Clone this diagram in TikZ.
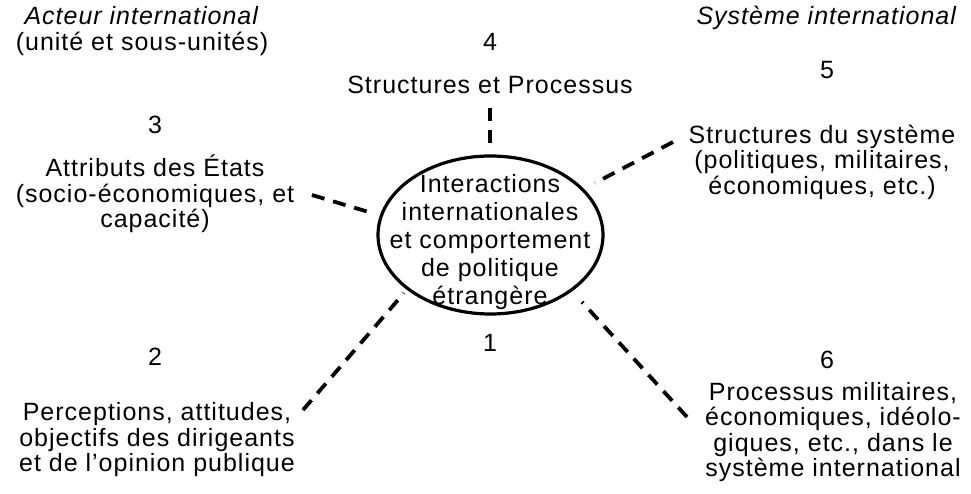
\documentclass[tikz,border=0pt]{standalone}
\usepackage{fontspec}
\setmainfont{Liberation Sans}[LetterSpace=4]
\usetikzlibrary{shapes.geometric}
\tikzset{
  txt/.style={align=center, inner sep=0pt, font=\fontsize{25}{25.5}\selectfont},
  ctxt/.style={align=center, inner sep=0pt, font=\fontsize{25}{28}\selectfont},
  link/.style={line width=3.8pt, dash pattern=on 13pt off 9pt},
  core/.style={ellipse, draw, line width=3.2pt, minimum width=225pt, minimum height=158pt, inner sep=0pt}
}
\begin{document}
\begin{tikzpicture}[x=1pt,y=-1pt]
\useasboundingbox (0,0) rectangle (971,494);
% headings
\node[txt] (acteur) at (142,31) {\textit{Acteur international}\\(unité et sous-unités)};
\node[txt] (systeme) at (827,18) {\textit{Système international}};
% numbers
\node[txt] (n1) at (490,343) {1};
\node[txt] (n2) at (155,357) {2};
\node[txt] (n3) at (155,125) {3};
\node[txt] (n4) at (490,42) {4};
\node[txt] (n5) at (827,70) {5};
\node[txt] (n6) at (827,360) {6};
% blocks
\node[txt] (b3) at (155,194) {Attributs des États\\(socio-économiques, et\\capacité)};
\node[txt] (b4) at (490,85) {Structures et Processus};
\node[txt] (b5) at (822,162) {Structures du système\\(politiques, militaires,\\économiques, etc.)};
\node[txt] (b2) at (157,440) {Perceptions, attitudes,\\objectifs des dirigeants\\et de l’opinion publique};
\node[txt] (b6) at (833,432) {Processus militaires,\\économiques, idéolo-\\giques, etc., dans le\\système international};
% core
\node[core] (ell) at (490.5,235) {};
\node[ctxt] (ctext) at (490,242) {Interactions\\internationales\\et comportement\\de politique\\étrangère};
% connector ends
\coordinate (e4a) at (490,108);
\coordinate (e4b) at (490,148);
\coordinate (e3a) at (312,195);
\coordinate (e3b) at (372,213);
\coordinate (e5a) at (673,142);
\coordinate (e5b) at (595,183);
\coordinate (e2a) at (303,410);
\coordinate (e2b) at (404,293);
\coordinate (e6a) at (687,417);
\coordinate (e6b) at (582,302);
\draw[link] (e4a) -- (e4b);
\draw[link] (e3a) -- (e3b);
\draw[link] (e5a) -- (e5b);
\draw[link] (e2a) -- (e2b);
\draw[link] (e6a) -- (e6b);
\end{tikzpicture}
\end{document}
